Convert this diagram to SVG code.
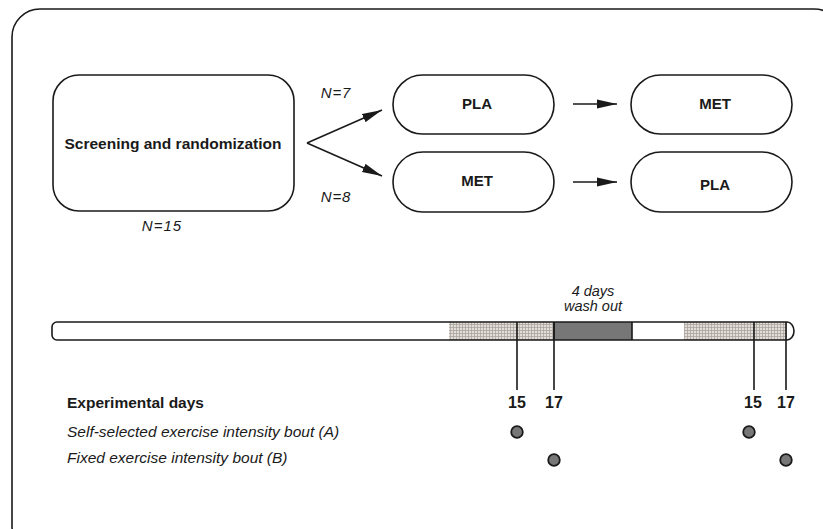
<svg xmlns="http://www.w3.org/2000/svg" width="823" height="529" viewBox="0 0 823 529">
<style>
.box{fill:#fff;stroke:#1a1a1a;stroke-width:1.6}
.ln{stroke:#1a1a1a;stroke-width:1.6;fill:none}
.b{font-family:"Liberation Sans",Arial,sans-serif;font-weight:bold;fill:#1a1a1a}
.i{font-family:"Liberation Sans",Arial,sans-serif;font-style:italic;fill:#1a1a1a}
.dot{fill:#777;stroke:#1a1a1a;stroke-width:1.8}
</style>
<defs>
<marker id="ah2" viewBox="0 0 20 10" refX="20" refY="5" markerWidth="20" markerHeight="10" orient="auto" markerUnits="userSpaceOnUse">
<path d="M0,0.5 L20,5 L0,9.5 z" fill="#1a1a1a"/>
</marker>
<pattern id="hatch" width="3" height="3" patternUnits="userSpaceOnUse">
<rect width="3" height="3" fill="#e2ddd8"/>
<path d="M0,0.5 H3 M0.5,0 V3" stroke="#aaa49e" stroke-width="0.8"/>
</pattern>
</defs>
<rect width="823" height="529" fill="#fff"/>
<rect x="12" y="9" width="830" height="545" rx="28" class="ln" stroke-width="1.8"/>

<g id="screening">
<rect x="53" y="75" width="241" height="136" rx="26" class="box"/>
<text x="173" y="149" class="b" font-size="15.5" text-anchor="middle">Screening  and randomization</text>
<text x="162" y="231" class="i" font-size="15" letter-spacing="1" text-anchor="middle">N=15</text>
</g>
<g id="pla1">
<rect x="393" y="75" width="161" height="59" rx="29.5" class="box"/>
<text x="477" y="109" class="b" font-size="15" text-anchor="middle">PLA</text>
</g>
<g id="met1">
<rect x="393" y="152" width="161" height="60" rx="30" class="box"/>
<text x="477" y="186" class="b" font-size="15" text-anchor="middle">MET</text>
</g>
<g id="met2">
<rect x="631" y="75" width="161" height="59" rx="29.5" class="box"/>
<text x="715" y="109" class="b" font-size="15" text-anchor="middle">MET</text>
</g>
<g id="pla2">
<rect x="631" y="152" width="161" height="60" rx="30" class="box"/>
<text x="715" y="190" class="b" font-size="15" text-anchor="middle">PLA</text>
</g>

<g id="connectors">
<path d="M307,143 L382,110" class="ln" marker-end="url(#ah2)"/>
<path d="M307,143 L382,176" class="ln" marker-end="url(#ah2)"/>
<path d="M573,104 L617,104" class="ln" marker-end="url(#ah2)"/>
<path d="M573,182 L617,182" class="ln" marker-end="url(#ah2)"/>
<text x="336" y="98" class="i" font-size="15" letter-spacing="0.8" text-anchor="middle">N=7</text>
<text x="336" y="202" class="i" font-size="15" letter-spacing="0.8" text-anchor="middle">N=8</text>
</g>

<g id="timeline">
<text x="593" y="296" class="i" font-size="14.5" text-anchor="middle">4 days</text>
<text x="593" y="311" class="i" font-size="14.5" text-anchor="middle">wash out</text>
<rect x="449" y="322" width="105" height="18" fill="url(#hatch)"/>
<rect x="554" y="322" width="78" height="18" fill="#777"/>
<rect x="684" y="322" width="103" height="18" fill="url(#hatch)"/>
<path d="M57,322 H787 A7,9 0 0 1 787,340 H57 A5,5 0 0 1 52,335 V327 A5,5 0 0 1 57,322 Z" class="ln"/>
<path d="M554,322 V340 M632,322 V340" class="ln"/>
<path d="M517,322 V390 M554,322 V390 M754,322 V390 M786,322 V390" class="ln"/>
<text x="517" y="408" class="b" font-size="16" text-anchor="middle">15</text>
<text x="554" y="408" class="b" font-size="16" text-anchor="middle">17</text>
<text x="753" y="408" class="b" font-size="16" text-anchor="middle">15</text>
<text x="786" y="408" class="b" font-size="16" text-anchor="middle">17</text>
<circle cx="517" cy="432" r="5.8" class="dot"/>
<circle cx="554" cy="460" r="5.8" class="dot"/>
<circle cx="749" cy="432" r="5.8" class="dot"/>
<circle cx="786" cy="460" r="5.8" class="dot"/>
</g>

<g id="legend">
<text x="67" y="408" class="b" font-size="15.5">Experimental days</text>
<text x="67" y="437" class="i" font-size="15.5">Self-selected exercise intensity bout (A)</text>
<text x="67" y="463" class="i" font-size="15.5">Fixed exercise intensity bout (B)</text>
</g>
</svg>
